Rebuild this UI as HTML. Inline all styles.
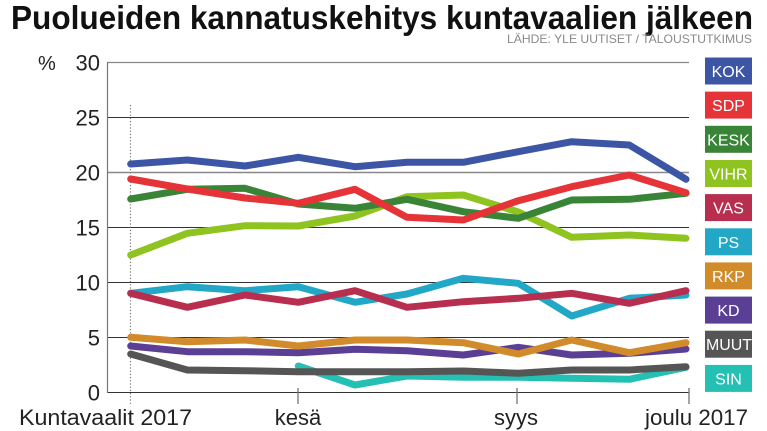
<!DOCTYPE html>
<html>
<head>
<meta charset="utf-8">
<style>
  html, body { margin:0; padding:0; background:#fff; }
  svg { display:block; }
  text { font-family: "Liberation Sans", "DejaVu Sans", sans-serif; }
</style>
</head>
<body>
<svg width="767" height="431" viewBox="0 0 767 431" xmlns="http://www.w3.org/2000/svg">
  <rect x="0" y="0" width="767" height="431" fill="#fff"/>

  <!-- Title -->
  <text x="11" y="29" font-size="33" font-weight="bold" fill="#111" textLength="742" lengthAdjust="spacingAndGlyphs">Puolueiden kannatuskehitys kuntavaalien jälkeen</text>
  <text x="752" y="43" font-size="12" fill="#8a8a8a" text-anchor="end" textLength="245" lengthAdjust="spacingAndGlyphs">LÄHDE: YLE UUTISET / TALOUSTUTKIMUS</text>

  <!-- Grid lines -->
  <line x1="107" y1="62.5" x2="689" y2="62.5" stroke="#888" stroke-width="1.2"/>
  <line x1="107" y1="117.5" x2="689" y2="117.5" stroke="#333" stroke-width="1"/>
  <line x1="107" y1="172.5" x2="689" y2="172.5" stroke="#888" stroke-width="1.4"/>
  <line x1="107" y1="227.5" x2="689" y2="227.5" stroke="#333" stroke-width="1"/>
  <line x1="107" y1="282.5" x2="689" y2="282.5" stroke="#333" stroke-width="1"/>
  <line x1="107" y1="337.5" x2="689" y2="337.5" stroke="#333" stroke-width="1"/>
  <line x1="107" y1="392.5" x2="689" y2="392.5" stroke="#333" stroke-width="1"/>
  <!-- left axis -->
  <line x1="107.5" y1="62" x2="107.5" y2="393" stroke="#777" stroke-width="1.2"/>
  <!-- ticks -->
  <line x1="298" y1="388" x2="298" y2="404" stroke="#777" stroke-width="1.3"/>
  <line x1="517" y1="388" x2="517" y2="404" stroke="#777" stroke-width="1.3"/>
  <line x1="689" y1="388" x2="689" y2="404" stroke="#777" stroke-width="1.3"/>
  <!-- dotted vertical -->
  <line x1="130.5" y1="105" x2="130.5" y2="404" stroke="#777" stroke-width="1.2" stroke-dasharray="1.2 2"/>

  <!-- Y labels -->
  <g font-size="22" fill="#222" text-anchor="end">
    <text x="100" y="70.5">30</text>
    <text x="100" y="125.5">25</text>
    <text x="100" y="180.5">20</text>
    <text x="100" y="235.5">15</text>
    <text x="100" y="290.5">10</text>
    <text x="100" y="345.5">5</text>
    <text x="100" y="400.5">0</text>
  </g>
  <text x="38" y="70" font-size="20" fill="#222">%</text>

  <!-- X labels -->
  <g font-size="22" fill="#222">
    <text x="19" y="425" textLength="173" lengthAdjust="spacingAndGlyphs">Kuntavaalit 2017</text>
    <text x="298" y="425" text-anchor="middle">kesä</text>
    <text x="516" y="425" text-anchor="middle">syys</text>
    <text x="645" y="425" textLength="103" lengthAdjust="spacingAndGlyphs">joulu 2017</text>
  </g>

  <!-- Series (drawn bottom-of-legend first) -->
  <g fill="none" stroke-width="7" stroke-linecap="round" stroke-linejoin="round">
    <!-- SIN -->
    <polyline stroke="#24c0b3" points="298.3,366 355,385 407,376 463.3,377.3 518.3,377.3 571.7,378.3 629.3,379.3 686,367.3"/>
    <!-- MUUT -->
    <polyline stroke="#555555" points="130.7,354 187.3,370 245,370.7 298.3,371.7 355,371.7 407,371.7 463.3,371 518.3,373.3 571.7,370 629.3,370 686,366.7"/>
    <!-- KD -->
    <polyline stroke="#5a3f94" points="130.7,346 187.3,351.7 245,351.7 298.3,352.7 355,349.3 407,350.7 463.3,355 518.3,347.3 571.7,355 629.3,353.3 686,349"/>
    <!-- RKP -->
    <polyline stroke="#d28b2a" points="130.7,337.3 187.3,341.7 245,340 298.3,346 355,340 407,340 463.3,342.7 518.3,354 571.7,340 629.3,352.7 686,342.7"/>
    <!-- PS -->
    <polyline stroke="#22a7c6" points="130.7,293.3 187.3,286.7 245,290.7 298.3,286.7 355,302.3 407,294 463.3,278.3 518.3,283.3 571.7,316 629.3,298.3 686,295"/>
    <!-- VAS -->
    <polyline stroke="#b82e4f" points="130.7,293.3 187.3,307.3 245,295 298.3,302.3 355,290.7 407,307.3 463.3,301.7 518.3,298.3 571.7,293.3 629.3,303.3 686,290.7"/>
    <!-- VIHR -->
    <polyline stroke="#8fc31f" points="130.7,255 187.3,233.3 245,225.7 298.3,226 355,216 407,196.7 463.3,195 518.3,212 571.7,237.3 629.3,235 686,238.3"/>
    <!-- KESK -->
    <polyline stroke="#3a8437" points="130.7,199 187.3,189.3 245,188.3 298.3,204 355,208.3 407,199.3 463.3,211.7 518.3,218.3 571.7,200 629.3,199.3 686,193.3"/>
    <!-- SDP -->
    <polyline stroke="#e63338" points="130.7,179 187.3,189 245,198 298.3,203.3 355,189.3 407,217.3 463.3,220 518.3,200.7 571.7,186.7 629.3,175 686,192.7"/>
    <!-- KOK -->
    <polyline stroke="#3c55a5" points="130.7,164 187.3,160 245,166 298.3,157.3 355,166.7 407,162.3 463.3,162.3 518.3,151.7 571.7,141.7 629.3,145 686,179.3"/>
  </g>

  <!-- Legend -->
  <g font-size="16" fill="#fff" text-anchor="middle">
    <rect x="705" y="57.5" width="47" height="27" fill="#3c55a5"/>
    <text x="728.5" y="77">KOK</text>
    <rect x="705" y="91.6" width="47" height="27" fill="#e63338"/>
    <text x="728.5" y="111.1">SDP</text>
    <rect x="705" y="125.8" width="47" height="27" fill="#3a8437"/>
    <text x="728.5" y="145.3">KESK</text>
    <rect x="705" y="160" width="47" height="27" fill="#8fc31f"/>
    <text x="728.5" y="179.5">VIHR</text>
    <rect x="705" y="194.1" width="47" height="27" fill="#b82e4f"/>
    <text x="728.5" y="213.6">VAS</text>
    <rect x="705" y="228.3" width="47" height="27" fill="#22a7c6"/>
    <text x="728.5" y="247.8">PS</text>
    <rect x="705" y="262.4" width="47" height="27" fill="#d28b2a"/>
    <text x="728.5" y="281.9">RKP</text>
    <rect x="705" y="296.6" width="47" height="27" fill="#5a3f94"/>
    <text x="728.5" y="316.1">KD</text>
    <rect x="705" y="330.7" width="47" height="27" fill="#555555"/>
    <text x="729" y="350.2" textLength="46" lengthAdjust="spacingAndGlyphs">MUUT</text>
    <rect x="705" y="364.9" width="47" height="27" fill="#24c0b3"/>
    <text x="728.5" y="384.4">SIN</text>
  </g>
</svg>
</body>
</html>
